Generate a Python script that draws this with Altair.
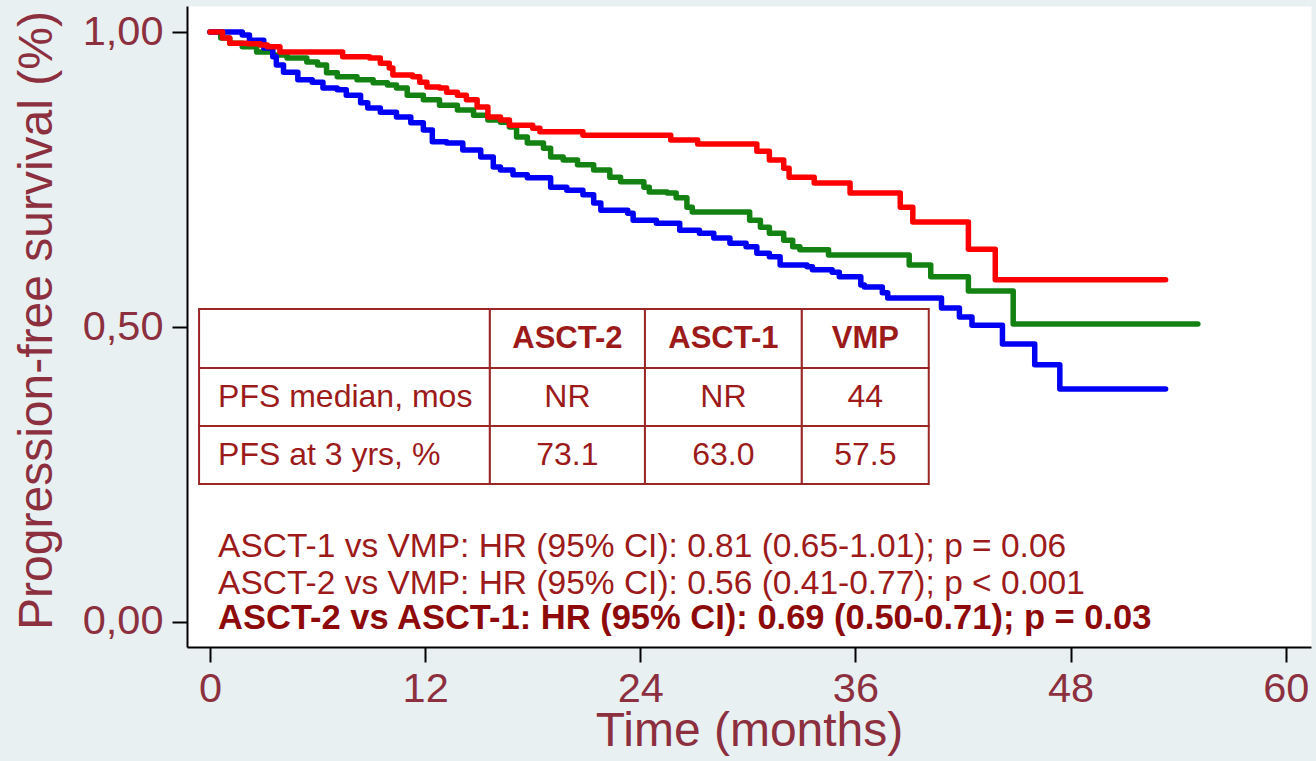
import altair as alt
import pandas as pd

# ---------------- data ----------------
# ASCT-2 (red)
red_t = [0, 0.7, 1.1, 2.1, 2.8, 3.2, 3.9, 7.4, 8.9, 9.5, 10.0, 10.2, 11.3, 11.7, 12.1, 12.8,
         13.2, 13.8, 14.3, 14.9, 15.5, 16.2, 16.7, 18.0, 18.4, 20.8, 25.7, 27.2, 30.5, 31.2,
         32.0, 32.3, 33.7, 35.7, 38.5, 39.2, 42.3, 43.8, 53.3]
red_s = [1.0, 0.990, 0.981, 0.980, 0.978, 0.975, 0.966, 0.958, 0.956, 0.947, 0.939, 0.927,
         0.924, 0.915, 0.907, 0.905, 0.898, 0.893, 0.885, 0.873, 0.856, 0.851, 0.842, 0.837,
         0.831, 0.825, 0.817, 0.810, 0.798, 0.783, 0.769, 0.754, 0.744, 0.727, 0.703, 0.678,
         0.632, 0.580, 0.580]

# ASCT-1 (green)
green_t = [0, 0.6, 1.1, 1.8, 2.6, 3.5, 4.3, 5.4, 6.0, 6.5, 7.1, 8.2, 9.1, 9.9, 10.4, 11.0,
           11.9, 12.8, 13.8, 14.7, 15.5, 16.2, 16.7, 17.1, 17.7, 18.6, 19.0, 19.7, 20.5, 21.4,
           22.3, 22.9, 24.2, 24.5, 25.5, 26.0, 26.6, 26.9, 30.1, 30.7, 31.2, 32.0, 32.5, 32.9,
           34.5, 39.0, 40.2, 42.3, 44.8, 55.1]
green_s = [1.0, 0.990, 0.981, 0.975, 0.966, 0.961, 0.956, 0.949, 0.944, 0.931, 0.924, 0.919,
           0.914, 0.910, 0.905, 0.893, 0.885, 0.876, 0.868, 0.859, 0.851, 0.847, 0.839, 0.822,
           0.812, 0.803, 0.788, 0.783, 0.775, 0.766, 0.754, 0.746, 0.737, 0.729, 0.727, 0.719,
           0.703, 0.695, 0.681, 0.669, 0.659, 0.647, 0.636, 0.631, 0.622, 0.605, 0.585, 0.561,
           0.505, 0.505]

# VMP (blue)
blue_t = [0, 1.8, 2.2, 3.0, 3.5, 3.7, 4.1, 4.9, 5.7, 6.3, 7.1, 7.6, 8.4, 8.8, 9.5, 10.4,
          11.2, 11.9, 12.4, 13.2, 14.1, 15.1, 15.8, 16.2, 16.9, 17.7, 19.0, 19.9, 20.8, 21.4,
          21.8, 23.3, 23.6, 24.9, 26.2, 27.3, 28.1, 29.0, 29.9, 30.5, 31.2, 31.8, 33.3, 33.6,
          34.7, 35.1, 36.3, 36.5, 37.5, 37.8, 40.8, 41.8, 42.5, 44.2, 46.0, 47.4, 53.3]
blue_s = [1.0, 0.995, 0.986, 0.973, 0.958, 0.944, 0.932, 0.919, 0.915, 0.905, 0.902, 0.893,
          0.880, 0.871, 0.864, 0.856, 0.846, 0.834, 0.814, 0.812, 0.800, 0.788, 0.771, 0.766,
          0.758, 0.753, 0.737, 0.732, 0.724, 0.710, 0.698, 0.693, 0.681, 0.676, 0.664, 0.659,
          0.651, 0.642, 0.636, 0.625, 0.619, 0.605, 0.602, 0.597, 0.593, 0.585, 0.571, 0.568,
          0.558, 0.549, 0.532, 0.517, 0.503, 0.471, 0.436, 0.395, 0.395]

x_ticks = [0, 12, 24, 36, 48, 60]
y_ticks = [0, 0.5, 1.0]

table_header = ["ASCT-2", "ASCT-1", "VMP"]
table_rows = ["PFS median, mos", "PFS at 3 yrs, %"]
table_values = [["NR", "NR", "44"], ["73.1", "63.0", "57.5"]]

hr_lines = ["ASCT-1 vs VMP: HR (95% CI): 0.81 (0.65-1.01); p = 0.06",
            "ASCT-2 vs VMP: HR (95% CI): 0.56 (0.41-0.77); p < 0.001"]
hr_bold = "ASCT-2 vs ASCT-1: HR (95% CI): 0.69 (0.50-0.71); p = 0.03"

# ---------------- layout (in data units of the axes) ----------------
col_edges = [-0.61, 15.61, 24.26, 33.01, 40.09]
row_edges = [0.5305, 0.4305, 0.3322, 0.2339]
text_left = 0.45
hr_y = [0.1271, 0.0644, 0.0051]

FONT = "Liberation Sans, Arial, sans-serif"
AXIS_COL = "#8c3040"
TXT_COL = "#9c1a1a"
BOLD_COL = "#8e0a0a"
BORDER_COL = "#9a2626"

x_scale = alt.Scale(domain=[-1.283, 61.41], nice=False, zero=False)
y_scale = alt.Scale(domain=[-0.0424, 1.0441], nice=False, zero=False)

x_axis = alt.Axis(values=x_ticks, format="d", grid=False, domainColor="black", domainWidth=2,
                  tickColor="black", tickWidth=2, tickSize=15, labelFontSize=41.5,
                  labelColor=AXIS_COL, labelFont=FONT, labelPadding=6, labelFlush=False,
                  labelOverlap=False, title="Time (months)", titleFontSize=48,
                  titleFontWeight="normal", titleColor=AXIS_COL, titleFont=FONT,
                  titleY=98, titleBaseline="alphabetic")
y_axis = alt.Axis(values=y_ticks, labelExpr="replace(format(datum.value, '.2f'), '.', ',')",
                  grid=False, domainColor="black", domainWidth=2, tickColor="black",
                  tickWidth=2, tickSize=15, labelFontSize=41.5, labelColor=AXIS_COL,
                  labelFont=FONT, labelPadding=9, labelFlush=False, labelOverlap=False,
                  title="Progression-free survival (%)", titleFontSize=48,
                  titleFontWeight="normal", titleColor=AXIS_COL, titleFont=FONT,
                  titleX=-136, titleY=314, titleBaseline="alphabetic")


def ex(field):
    return alt.X(field, type="quantitative", scale=x_scale, axis=x_axis)


def ey(field):
    return alt.Y(field, type="quantitative", scale=y_scale, axis=y_axis)


def curve(ts, ss, color):
    df = pd.DataFrame({"t": ts, "s": ss})
    return alt.Chart(df).mark_line(interpolate="step-after", strokeWidth=5.5, color=color,
                                   strokeCap="round", strokeJoin="round").encode(
        x=ex("t"), y=ey("s"))


green = curve(green_t, green_s, "#138213")
blue = curve(blue_t, blue_s, "#0000f5")
red = curve(red_t, red_s, "#ff0000")

# table cells
cells = []
for r in range(3):
    for c in range(4):
        cells.append({"t": col_edges[c], "t2": col_edges[c + 1],
                      "s": row_edges[r], "s2": row_edges[r + 1]})
cells_df = pd.DataFrame(cells)
table = alt.Chart(cells_df).mark_rect(fill="white", stroke=BORDER_COL, strokeWidth=2).encode(
    x=ex("t"), x2="t2:Q", y=ey("s"), y2="s2:Q")

col_mid = [(col_edges[i] + col_edges[i + 1]) / 2 for i in range(1, 4)]
row_mid = [(row_edges[i] + row_edges[i + 1]) / 2 for i in range(3)]


def texts(df, size, color, align, weight="normal"):
    return alt.Chart(df).mark_text(font=FONT, fontSize=size, fontWeight=weight, color=color,
                                   align=align, baseline="middle").encode(
        x=ex("t"), y=ey("s"), text="text:N")


head_df = pd.DataFrame({"t": col_mid, "s": [row_mid[0]] * 3, "text": table_header})
head = texts(head_df, 31, TXT_COL, "center", "bold")

lab_df = pd.DataFrame({"t": [text_left] * 2, "s": row_mid[1:], "text": table_rows})
labs = texts(lab_df, 32, TXT_COL, "left")

vals = []
for r, rowvals in enumerate(table_values):
    for c, v in enumerate(rowvals):
        vals.append({"t": col_mid[c], "s": row_mid[r + 1], "text": v})
vals_df = pd.DataFrame(vals)
valt = texts(vals_df, 32, TXT_COL, "center")

hr_df = pd.DataFrame({"t": [text_left] * 2, "s": hr_y[:2], "text": hr_lines})
hrt = texts(hr_df, 33.5, TXT_COL, "left")

hrb_df = pd.DataFrame({"t": [text_left], "s": [hr_y[2]], "text": [hr_bold]})
hrb = texts(hrb_df, 34.5, BOLD_COL, "left", "bold")

chart = alt.layer(green, blue, red, table, head, labs, valt, hrt, hrb).properties(
    width=1124, height=641,
    padding={"left": 187, "top": 6, "right": 5, "bottom": 114},
    autosize=alt.AutoSizeParams(type="none"),
    background="#e9f0f2",
).configure_view(fill="white", stroke="transparent")

chart.save("out.html", embed_options={"renderer": "svg", "actions": False})
